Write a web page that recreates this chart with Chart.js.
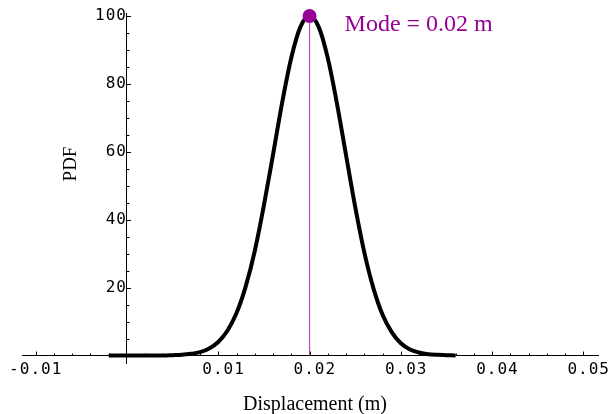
<!DOCTYPE html>
<html>
<head>
<meta charset="utf-8">
<script src="https://cdn.jsdelivr.net/npm/chart.js@4"></script>
<style>
  html, body { margin: 0; padding: 0; background: #fff; }
  #wrap { width: 613px; height: 414px; position: relative; }
</style>
</head>
<body>
<div id="wrap"><canvas id="c" width="613" height="414"></canvas></div>
<script>
// ---- data ----
const displacement = [-0.002, -0.001, 0.000, 0.001, 0.002, 0.003, 0.004, 0.005, 0.006, 0.007,
  0.008, 0.009, 0.010, 0.011, 0.012, 0.013, 0.014, 0.015, 0.016, 0.017,
  0.018, 0.019, 0.020, 0.021, 0.022, 0.023, 0.024, 0.025, 0.026, 0.027,
  0.028, 0.029, 0.030, 0.031, 0.032, 0.033, 0.034, 0.035, 0.036];
const pdf = [0, 0, 0, 0, 0, 0, 0, 0.1, 0.2, 0.5,
  1.0, 2.1, 4.0, 7.3, 12.5, 20.3, 30.8, 44.2, 59.2, 74.5,
  87.7, 96.8, 100, 96.8, 87.6, 74.3, 59.0, 43.8, 30.4, 19.8,
  12.0, 6.9, 3.6, 1.8, 0.9, 0.4, 0.2, 0.1, 0];
const modeX = [0.02];
const modePdf = [100];
const modeLabel = 'Mode = 0.02 m';
const xTickValues = [-0.01, 0.01, 0.02, 0.03, 0.04, 0.05];
const xTickLabels = ['-0.01', '0.01', '0.02', '0.03', '0.04', '0.05'];
const yTickValues = [20, 40, 60, 80, 100];
const yTickLabels = ['20', '40', '60', '80', '100'];
const xTitle = 'Displacement (m)';
const yTitle = 'PDF';

// ---- styling ----
const PURPLE = '#930093';
const MODE_LINE = '#b652b6';
const MONO = '"DejaVu Sans Mono", monospace';
const SERIF = '"Liberation Serif", "Times New Roman", serif';

function findLabel(values, labels, v, tol) {
  for (let i = 0; i < values.length; i++) {
    if (Math.abs(values[i] - v) < tol) return labels[i];
  }
  return null;
}

const curveData = displacement.map((x, i) => ({ x: x, y: pdf[i] }));
const dotData = modeX.map((x, i) => ({ x: x, y: modePdf[i] }));
const modeLineData = [{ x: modeX[0], y: 0 }, { x: modeX[0], y: modePdf[0] }];

const tickPlugin = {
  id: 'mmaTicks',
  beforeDraw(chart) {
    chart.ctx.letterSpacing = '1px';
  },
  beforeDatasetsDraw(chart) {
    const ctx = chart.ctx;
    const xs = chart.scales.x, ys = chart.scales.y;
    const y0 = ys.getPixelForValue(0);
    const x0 = xs.getPixelForValue(0);
    ctx.save();
    ctx.strokeStyle = '#000';
    ctx.lineWidth = 1;
    ctx.beginPath();
    xs.ticks.forEach(t => {
      if (Math.abs(t.value) < 1e-9) return;
      const major = findLabel(xTickValues, xTickLabels, t.value, 1e-7) !== null;
      const px = Math.round(xs.getPixelForValue(t.value)) + 0.5;
      ctx.moveTo(px, y0);
      ctx.lineTo(px, y0 - (major ? 4 : 2));
    });
    ys.ticks.forEach(t => {
      if (Math.abs(t.value) < 1e-9) return;
      const major = findLabel(yTickValues, yTickLabels, t.value, 1e-6) !== null;
      const py = Math.round(ys.getPixelForValue(t.value)) + 0.5;
      ctx.moveTo(x0, py);
      ctx.lineTo(x0 + (major ? 4 : 2.5), py);
    });
    ctx.stroke();
    ctx.restore();
  },
  afterDraw(chart) {
    const ctx = chart.ctx;
    ctx.save();
    ctx.letterSpacing = '0px';
    ctx.fillStyle = '#000';
    ctx.font = '20px ' + SERIF;
    ctx.textAlign = 'center';
    ctx.textBaseline = 'alphabetic';
    ctx.fillText(xTitle, 315, 410);
    ctx.save();
    ctx.translate(76, 164);
    ctx.rotate(-Math.PI / 2);
    ctx.font = '19px ' + SERIF;
    ctx.fillText(yTitle, 0, 0);
    ctx.restore();
    // mode annotation, anchored to the mode point
    const mx = chart.scales.x.getPixelForValue(modeX[0]);
    const my = chart.scales.y.getPixelForValue(modePdf[0]);
    ctx.fillStyle = PURPLE;
    ctx.font = '24px ' + SERIF;
    ctx.textAlign = 'left';
    ctx.fillText(modeLabel, mx + 35, my + 15);
    ctx.restore();
  }
};

new Chart(document.getElementById('c'), {
  type: 'line',
  data: {
    datasets: [
      { data: dotData, showLine: false, pointRadius: 7, pointHoverRadius: 7, clip: false,
        pointBackgroundColor: PURPLE, pointBorderWidth: 0, borderColor: PURPLE },
      { data: curveData, borderColor: '#000', borderWidth: 4, pointRadius: 0,
        cubicInterpolationMode: 'monotone', fill: false, borderCapStyle: 'butt' },
      { data: modeLineData, borderColor: MODE_LINE, borderWidth: 1.2, pointRadius: 0, fill: false }
    ]
  },
  options: {
    responsive: false,
    animation: false,
    events: [],
    layout: { padding: { left: 22, right: 15, top: 13, bottom: 51 } },
    plugins: { legend: { display: false }, tooltip: { enabled: false }, title: { display: false } },
    scales: {
      x: {
        type: 'linear',
        position: { y: 0 },
        min: -0.0115,
        max: 0.0516,
        grid: { display: false, drawTicks: false },
        border: { display: true, color: '#000', width: 1 },
        ticks: {
          stepSize: 0.002,
          includeBounds: false,
          autoSkip: false,
          maxRotation: 0,
          minRotation: 0,
          padding: 5,
          color: '#000',
          font: { family: MONO, size: 16 },
          callback: (v) => {
            const l = findLabel(xTickValues, xTickLabels, v, 1e-7);
            if (l === null) return '';
            return l.charAt(0) === '-' ? l : ' ' + l;
          }
        }
      },
      y: {
        type: 'linear',
        position: { x: 0 },
        min: -2.2,
        max: 100.9,
        grid: { display: false, drawTicks: false },
        border: { display: true, color: '#000', width: 1 },
        ticks: {
          stepSize: 5,
          includeBounds: false,
          autoSkip: false,
          padding: 1,
          color: '#000',
          font: { family: MONO, size: 16 },
          callback: (v) => {
            const l = findLabel(yTickValues, yTickLabels, v, 1e-6);
            return l === null ? '' : l;
          }
        }
      }
    }
  },
  plugins: [tickPlugin]
});
</script>
</body>
</html>
